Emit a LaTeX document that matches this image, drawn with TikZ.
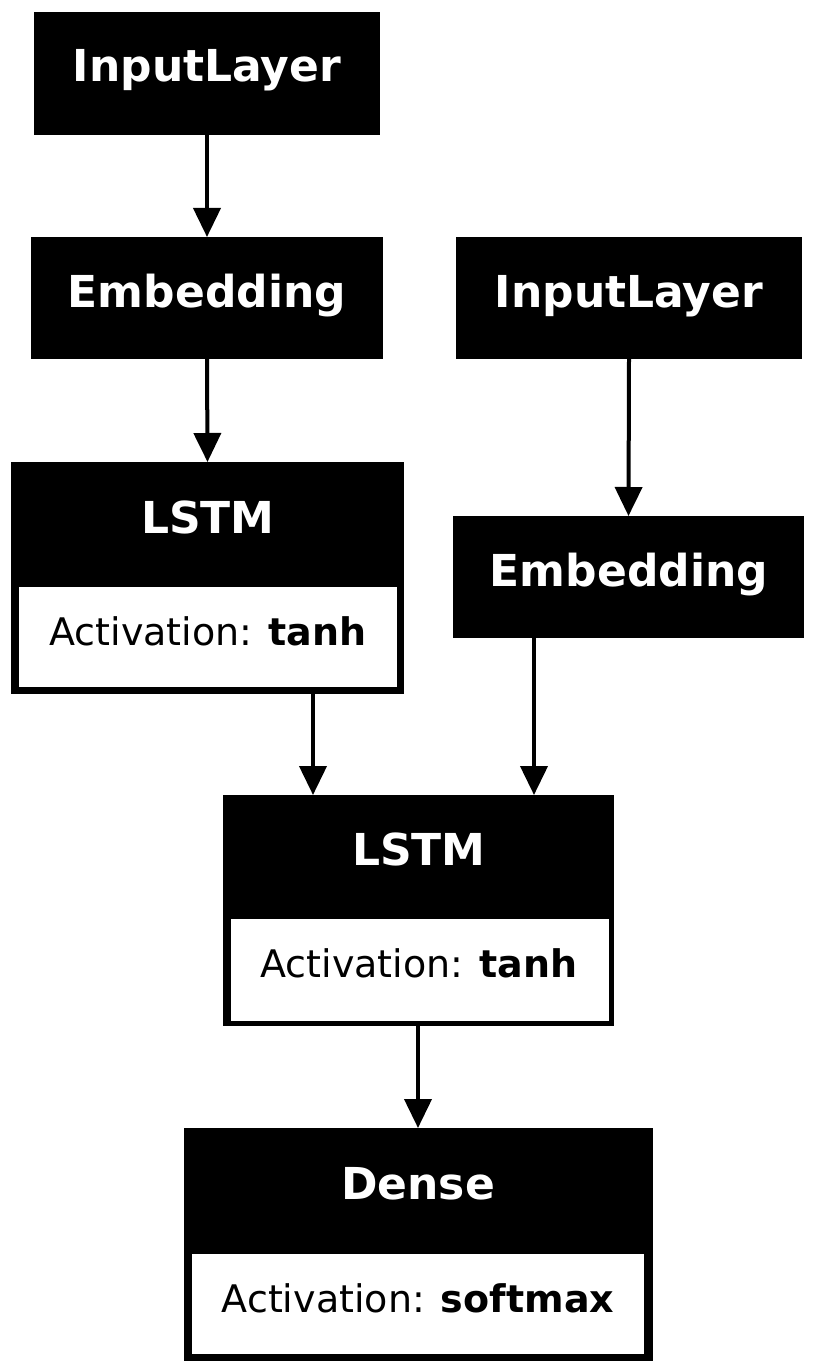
\documentclass[tikz,border=0pt]{standalone}
\usepackage{fontspec}
\setmainfont{DejaVu Sans}
\usetikzlibrary{arrows.meta}
\begin{document}
\begin{tikzpicture}[x=1pt,y=-1pt,
  blk/.style={rectangle,fill=black,draw=none,inner sep=0pt,outer sep=0pt},
  wht/.style={rectangle,fill=white,draw=none,inner sep=0pt,outer sep=0pt},
  hdr/.style={anchor=base,inner sep=0pt,text=white,font=\fontsize{44}{50}\selectfont\bfseries},
  act/.style={anchor=base,inner sep=0pt,text=black,font=\fontsize{38}{44}\selectfont},
  arr/.style={line width=4pt,-{Triangle[length=29pt,width=27pt]}}]
\useasboundingbox (0,0) rectangle (815,1372);
% boxes
\node[blk,minimum width=346pt,minimum height=123pt] (il1) at (207,73.5) {};
\node[blk,minimum width=352pt,minimum height=122pt] (emb1) at (207,298) {};
\node[blk,minimum width=346pt,minimum height=122pt] (il2) at (629,298) {};
\node[blk,minimum width=393pt,minimum height=232pt] (lstm1) at (207.5,578) {};
\node[wht,minimum width=378pt,minimum height=100pt] (lstm1w) at (208,637) {};
\node[blk,minimum width=351pt,minimum height=122pt] (emb2) at (628.5,577) {};
\node[blk,minimum width=391pt,minimum height=231pt] (lstm2) at (418,910.5) {};
\node[wht,minimum width=378pt,minimum height=102pt] (lstm2w) at (419.5,969.5) {};
\node[blk,minimum width=469pt,minimum height=233pt] (dense) at (418,1244.5) {};
\node[wht,minimum width=452pt,minimum height=100pt] (densew) at (418,1304) {};
% texts
\node[hdr] (il1t) at (207,82) {InputLayer};
\node[hdr] (emb1t) at (207,307) {Embedding};
\node[hdr] (il2t) at (629,307) {InputLayer};
\node[hdr] (lstm1t) at (208,533) {LSTM};
\node[act] (lstm1a) at (208,645) {Activation: \textbf{tanh}};
\node[hdr] (emb2t) at (629,586) {Embedding};
\node[hdr] (lstm2t) at (419,865) {LSTM};
\node[act] (lstm2a) at (419,977) {Activation: \textbf{tanh}};
\node[hdr] (denset) at (418,1199) {Dense};
\node[act] (densea) at (418,1312) {Activation: \textbf{softmax}};
% connectors
\coordinate (c1) at (313,0);
\coordinate (c2) at (534,0);
\draw[arr] (il1.south) -- (emb1.north);
\draw[arr] (emb1.south) -- (lstm1.north);
\draw[arr] (il2.south) -- (emb2.north);
\draw[arr] (lstm1.south -| c1) -- (lstm2.north -| c1);
\draw[arr] (emb2.south -| c2) -- (lstm2.north -| c2);
\draw[arr] (lstm2.south) -- (dense.north);
\end{tikzpicture}
\end{document}
